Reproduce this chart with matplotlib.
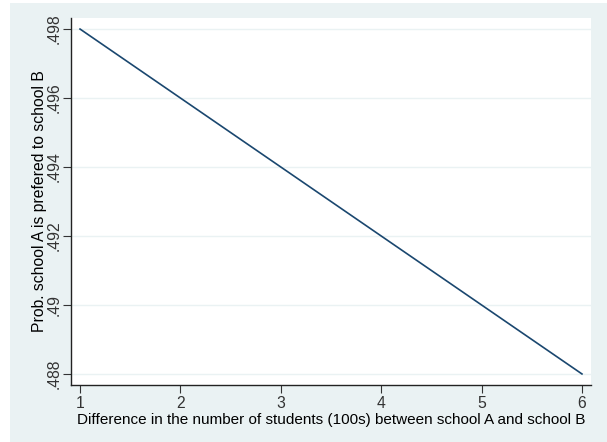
import matplotlib.pyplot as plt
from matplotlib.patches import Rectangle

plt.rcParams['font.family'] = ['Liberation Sans', 'DejaVu Sans']

# Daten
unterschied = [1, 2, 3, 4, 5, 6]
wahrscheinlichkeit = [0.498, 0.496, 0.494, 0.492, 0.490, 0.488]
y_ticks = [0.488, 0.490, 0.492, 0.494, 0.496, 0.498]
y_labels = ['.488', '.49', '.492', '.494', '.496', '.498']

fig = plt.figure(figsize=(6.07, 4.42), dpi=100, facecolor='white')
# Hintergrund im Stata-Stil
fig.patches.append(Rectangle((10 / 607, 0), 1, 1 - 3 / 442, transform=fig.transFigure,
                             facecolor='#eaf2f3', edgecolor='none', zorder=-1))

ax = fig.add_axes([71 / 607, 1 - 385 / 442, (591 - 71) / 607, (385 - 18) / 442])
ax.set_facecolor('white')
ax.plot(unterschied, wahrscheinlichkeit, color='#1a476f', linewidth=1.2)

ax.set_xlim(0.91, 6.09)
ax.set_ylim(0.48768, 0.49832)
ax.set_xticks(unterschied)
ax.set_yticks(y_ticks)
ax.set_yticklabels(y_labels, rotation=90, va='center')
ax.tick_params(axis='both', labelsize=11.3, colors='#333333', length=6, width=0.8)
ax.tick_params(axis='x', pad=2)
ax.tick_params(axis='y', pad=0.5)
ax.grid(axis='y', color='#eaf2f3', linewidth=1)

for s in ['top', 'right']:
    ax.spines[s].set_visible(False)
for s in ['left', 'bottom']:
    ax.spines[s].set_color('#222222')
    ax.spines[s].set_linewidth(1)

ax.set_xlabel('Difference in the number of students (100s) between school A and school B',
              fontsize=11, labelpad=1.5)
ax.set_ylabel('Prob. school A is prefered to school B', fontsize=11.3, labelpad=0)

plt.savefig('out.png', dpi=100, facecolor=fig.get_facecolor())
